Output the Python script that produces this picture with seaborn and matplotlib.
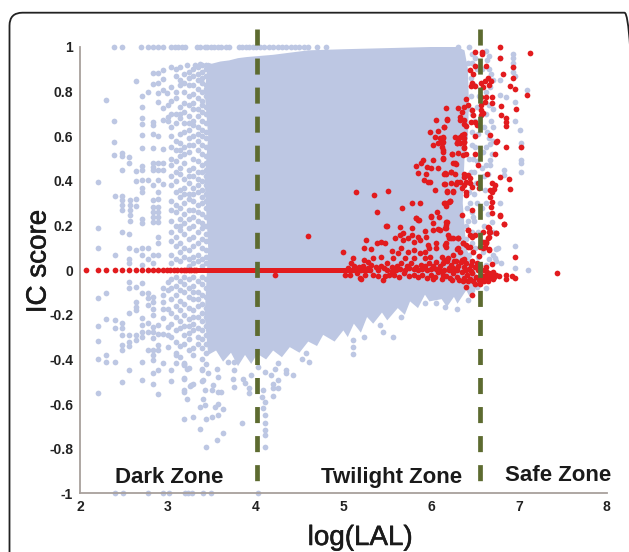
import numpy as np
import pandas as pd
import matplotlib.pyplot as plt
import matplotlib.patheffects as pe
from matplotlib.patches import FancyBboxPatch
import seaborn as sns

# outline of the solid blue cloud
cloud_x = [3.46, 3.5, 3.6, 3.7, 3.8, 3.9, 4.05, 4.2, 4.4, 4.6, 5.0, 5.5, 6.0, 6.3, 6.38, 6.42, 6.43, 6.42, 6.38, 6.36, 6.40, 6.5, 6.55,
           6.44, 6.40, 6.30, 6.26, 6.18, 6.12, 5.98, 5.93, 5.85, 5.76, 5.70, 5.62, 5.5, 5.44, 5.34, 5.27, 5.2, 5.12, 5.05, 5.0, 4.9, 4.77, 4.7,
           4.6, 4.5, 4.39, 4.3, 4.2, 4.12, 4.02, 3.95, 3.88, 3.8, 3.72, 3.63, 3.55, 3.46, 3.42, 3.46, 3.42, 3.46, 3.42, 3.46]
cloud_y = [0.93, 0.925, 0.935, 0.94, 0.95, 0.955, 0.96, 0.965, 0.975, 0.985, 0.99, 0.995, 1.0, 1.0, 0.985, 0.90, 0.75, 0.6, 0.5, 0.3, 0.1, 0.0, -0.06,
           -0.12, -0.09, -0.15, -0.12, -0.165, -0.13, -0.14, -0.11, -0.17, -0.14, -0.2, -0.17, -0.225, -0.19, -0.24, -0.21, -0.28, -0.24, -0.3, -0.27, -0.32, -0.29, -0.34,
           -0.32, -0.37, -0.345, -0.39, -0.36, -0.40, -0.375, -0.42, -0.38, -0.43, -0.37, -0.41, -0.36, -0.38, -0.2, 0.1, 0.4, 0.6, 0.8, 0.93]

top_row_x = [2.39, 2.48, 2.70, 2.77, 2.83, 2.89, 2.94, 3.04, 3.08, 3.12, 3.16, 3.2, 3.33, 3.37, 3.42, 3.45, 3.49, 3.53,
             3.57, 3.61, 3.66, 3.70, 3.81, 3.85, 3.89, 3.93, 3.97, 4.01, 4.05, 4.1, 4.15, 4.2, 4.25, 4.3, 4.35, 4.4,
             4.45, 4.5, 4.55, 4.6, 4.7, 4.8]
bottom_row_x = [2.40, 2.49, 2.78, 2.94, 3.01, 3.20, 3.23, 3.28, 3.40, 3.49, 4.03]

blue_left = [(2.30, .762), (2.64, .847), (2.39, .669), (2.39, .575), (2.39, .515), (2.48, .526), (2.48, .511), (2.56, .505),
             (2.71, .78), (2.77, .80), (2.71, .732), (2.71, .68), (2.71, .657), (2.83, .665), (2.83, .65), (2.71, .606),
             (2.83, .608), (2.89, .60), (2.71, .547), (2.83, .548), (2.94, .542), (2.83, .882), (2.89, .882), (2.94, .897),
             (2.83, .834), (2.89, .837), (2.94, .858), (2.89, .792), (2.94, .807), (2.99, .795), (2.89, .752), (2.94, .725),
             (3.0, .74), (2.94, .675), (3.0, .687), (3.0, .668), (3.04, .911), (3.09, .90), (3.14, .911), (3.215, .919),
             (3.31, .919), (3.37, .926),
             (2.2, .393), (2.2, .188), (2.2, .098), (2.395, .332), (2.395, .067), (2.48, .332), (2.48, .314), (2.48, .291),
             (2.48, .269), (2.48, .173), (2.57, .314), (2.57, .291), (2.57, .269), (2.57, .246), (2.57, .221), (2.64, .321),
             (2.64, .287), (2.56, .478), (2.48, .448), (2.64, .445), (2.71, .466), (2.71, .448), (2.64, .40), (2.71, .406),
             (2.77, .406), (2.71, .366), (2.71, .348), (2.83, .381), (2.89, .406), (2.89, .351), (2.83, .314), (2.89, .317),
             (2.83, .284), (2.83, .261), (2.83, .239), (2.83, .217), (2.89, .284), (2.89, .261), (2.89, .239), (2.89, .217),
             (2.71, .231), (2.71, .213), (2.56, .161), (2.56, .098), (2.64, .089), (2.71, .098), (2.77, .098), (2.56, .048),
             (2.56, .033), (2.71, .067), (2.77, .052), (2.83, .067), (2.89, .067), (2.71, .022), (2.83, .033), (2.89, .149),
             (2.89, .12), (2.83, .478), (2.83, .463), (2.83, .448), (2.89, .478), (2.94, .478), (2.89, .448), (2.94, .448),
             (2.94, .388),
             (2.2, -.127), (2.30, -.104), (2.2, -.251), (2.2, -.318), (2.2, -.399), (2.30, -.221), (2.395, -.224), (2.395, -.258),
             (2.3, -.381), (2.3, -.411), (2.395, -.411), (2.48, -.239), (2.48, -.258), (2.48, -.291), (2.48, -.336), (2.48, -.358),
             (2.56, -.291), (2.56, -.321), (2.56, -.339), (2.56, -.448), (2.48, -.503), (2.2, -.55), (2.56, -.052), (2.56, -.082),
             (2.56, -.194), (2.64, -.074), (2.64, -.142), (2.64, -.164), (2.64, -.179), (2.71, -.059), (2.71, -.104), (2.71, -.216),
             (2.71, -.246), (2.71, -.276), (2.71, -.299), (2.64, -.291), (2.64, -.314), (2.71, -.411), (2.71, -.493), (2.77, -.104),
             (2.77, -.127), (2.77, -.157), (2.83, -.119), (2.83, -.142), (2.83, -.172), (2.83, -.201), (2.77, -.239), (2.77, -.276),
             (2.77, -.358), (2.83, -.254), (2.83, -.276), (2.83, -.306), (2.83, -.358), (2.83, -.381), (2.83, -.403), (2.83, -.463),
             (2.83, -.511), (2.89, -.246), (2.89, -.284), (2.89, -.336), (2.89, -.358), (2.89, -.448), (2.89, -.553), (2.94, -.418),
             (2.94, -.082), (2.94, -.112), (2.94, -.142), (2.94, -.172), (2.94, -.216), (2.94, -.288), (3.0, -.052), (3.0, -.09),
             (3.0, -.172), (3.0, -.254), (3.0, -.291), (3.0, -.343), (3.04, -.448), (3.09, -.381), (3.09, -.418), (3.18, -.426),
             (3.18, -.485), (3.18, -.538), (3.04, -.497), (3.27, -.515), (3.39, -.497), (3.39, -.448)]

# the speckled band just left of the solid cloud, one list per column
col_x = [3.04, 3.09, 3.14, 3.19, 3.24, 3.29, 3.34, 3.39, 3.44]
col_1 = [.82, .76, .70, .64, .60, .55, .50, .47, .42, .38, .31, .27, .22, .17, .13, .07, .03, -.04, -.08, -.13, -.19, -.24, -.30]
col_2 = [.87, .80, .77, .70, .66, .58, .54, .49, .44, .40, .35, .29, .26, .20, .15, .11, .05, -.03, -.07, -.11, -.16, -.21, -.27, -.32, -.37]
col_3 = [.85, .83, .73, .70, .68, .61, .57, .54, .51, .46, .43, .36, .33, .28, .23, .20, .18, .12, .08, .04, -.05, -.09, -.14, -.18, -.23, -.26, -.34, -.39]
col_4 = [.88, .84, .80, .75, .71, .66, .62, .55, .52, .48, .41, .37, .34, .30, .25, .21, .16, .10, .06, -.03, -.06, -.10, -.15, -.20, -.25, -.29, -.33, -.42]
col_5 = [.89, .86, .83, .78, .74, .69, .66, .63, .59, .56, .53, .45, .42, .39, .34, .32, .27, .23, .19, .14, .09, .05, .02, -.04, -.08, -.12, -.17, -.22, -.25, -.28, -.31, -.36, -.44]
col_6 = [.90, .87, .83, .79, .75, .72, .67, .65, .60, .56, .50, .46, .42, .37, .34, .31, .27, .24, .20, .15, .11, .06, .03, -.03, -.07, -.10, -.13, -.18, -.21, -.24, -.27, -.35, -.38]
col_7 = [.91, .88, .85, .81, .77, .72, .69, .64, .61, .58, .54, .49, .44, .41, .38, .35, .29, .26, .22, .17, .12, .07, .04, -.05, -.10, -.13, -.16, -.21, -.26, -.30, -.33]
col_8 = [.92, .89, .86, .84, .80, .76, .74, .71, .67, .63, .60, .56, .52, .47, .44, .40, .36, .33, .30, .25, .21, .19, .14, .10, .05, .02, -.03, -.06, -.11, -.15, -.19, -.23, -.27, -.31, -.35, -.40]
col_9 = [.92, .90, .87, .83, .81, .78, .73, .70, .66, .62, .59, .55, .51, .48, .45, .42, .38, .34, .31, .28, .24, .20, .16, .13, .09, .06, .03, -.04, -.08, -.12, -.17, -.21, -.25, -.29, -.33, -.37, -.42]

blue_bottom = [(3.18, -.418), (3.215, -.441), (3.39, -.441), (3.405, -.493), (3.18, -.486), (3.29, -.508), (3.25, -.52), (3.42, -.538),
               (3.52, -.515), (3.50, -.535), (3.575, -.545), (3.61, -.545), (3.18, -.545), (3.215, -.578), (3.405, -.578), (3.37, -.613),
               (3.42, -.605), (3.575, -.598), (3.54, -.613), (3.63, -.62), (3.44, -.665), (3.50, -.657), (3.575, -.65), (3.29, -.657),
               (3.18, -.665), (3.37, -.71), (3.63, -.732), (3.56, -.762), (3.435, -.792), (3.85, -.687), (4.11, -.65), (4.11, -.687),
               (4.11, -.717), (4.11, -.74), (4.11, -.792), (4.07, -.568), (4.11, -.59), (4.09, -.616), (3.75, -.448), (3.74, -.486),
               (3.76, -.523), (3.86, -.486), (3.88, -.505), (3.92, -.53), (3.92, -.55), (3.95, -.471), (4.09, -.538), (4.20, -.508),
               (4.20, -.53), (4.26, -.493), (4.26, -.53), (4.20, -.565), (4.18, -.471), (4.11, -.456), (4.22, -.441), (4.26, -.418),
               (4.35, -.448), (4.35, -.46), (4.43, -.468), (4.53, -.40), (4.61, -.411), (4.58, -.373), (4.03, -.433), (3.75, -.411),
               (3.69, -.411), (3.56, -.441), (3.46, -.463), (3.575, -.478),
               (5.11, -.314), (5.11, -.344), (5.11, -.374), (5.23, -.30), (5.42, -.247), (5.45, -.277), (5.56, -.30), (5.66, -.21),
               (5.93, -.146), (6.05, -.149), (6.16, -.164), (6.30, -.176), (6.42, -.135), (6.63, -.082), (6.46, -.09), (6.52, -.075)]

blue_right = [(6.93, .97), (6.93, .95), (6.93, .93), (6.93, .91), (6.93, .89), (6.95, .87), (7.09, .807), (7.01, .63), (7.02, .55),
              (6.78, .85), (6.78, .785), (6.85, .774), (6.95, .755), (6.95, .67), (6.78, .95), (6.43, 1.0), (6.31, 1.0),
              (7.02, .568), (7.02, .493), (7.02, .478), (7.02, .441), (6.83, .449), (6.83, .426), (6.67, .493), (6.67, .471), (6.67, .565),
              (6.95, .109), (6.95, .008), (7.10, 0.0), (6.74, .097), (6.73, .053), (6.63, .023), (6.48, .24), (6.69, .217), (6.40, .2),
              (6.46, .97), (6.46, .93), (6.45, .86), (6.45, .78), (6.47, .70), (6.47, .62), (6.46, .56), (6.48, .50), (6.45, .44), (6.43, .35),
              (6.44, .30), (6.46, .26), (6.42, .22), (6.45, .16), (6.46, .12), (6.43, .07), (6.48, .03),
              (6.62, .98), (6.64, .94), (6.66, .90), (6.68, .88), (6.63, .80), (6.67, .82), (6.66, .74), (6.70, .72), (6.62, .70), (6.68, .67),
              (6.71, .64), (6.64, .62), (6.66, .59), (6.71, .58), (6.63, .55), (6.69, .52), (6.63, .47), (6.65, .43), (6.61, .36), (6.62, .30),
              (6.65, .25), (6.70, .17), (6.62, .13), (6.76, .10), (6.74, .04), (6.80, .03), (6.78, .30),
              (6.50, .95), (6.52, .90), (6.49, .83), (6.54, .78), (6.52, .73), (6.50, .67), (6.53, .61), (6.50, .55), (6.52, .49), (6.49, .44),
              (6.51, .39), (6.49, .34), (6.52, .30), (6.49, .22), (6.53, .17), (6.50, .10), (6.53, .06), (6.58, .70), (6.60, .64), (6.59, .53),
              (6.66, .96), (6.70, .85), (6.58, .90), (6.58, .46), (6.60, .42), (6.58, .28), (6.60, .20), (6.59, .08), (6.66, .05), (6.70, .07),
              (6.42, .93), (6.44, .72), (6.43, .50), (6.42, .42), (6.41, .28), (6.40, .14), (6.47, .17), (6.46, .38)]

red_upper = [(6.78, 1.0), (7.125, .974), (6.50, .979), (6.575, .979), (6.585, .968), (6.78, .949), (6.93, .911), (6.5, .914), (6.44, .896),
             (6.48, .877), (6.62, .916), (6.82, .877), (6.93, .859), (6.46, .837), (6.5, .826), (6.45, .825), (6.57, .837), (6.61, .849),
             (6.65, .859), (6.68, .849), (6.66, .829), (6.59, .822), (6.9, .826), (6.95, .814), (7.09, .784), (6.4, .769), (6.42, .74),
             (6.57, .777), (6.63, .774), (6.61, .754), (6.69, .777), (6.57, .74), (6.69, .747), (6.17, .726), (6.31, .725), (6.37, .732),
             (6.35, .71), (6.80, .737), (6.97, .722), (6.47, .717), (6.48, .695), (6.57, .717), (6.59, .705), (6.57, .695), (6.80, .695),
             (6.85, .684), (6.85, .665), (6.85, .647), (6.18, .675), (6.15, .642), (6.33, .687), (6.37, .672), (6.38, .657), (6.45, .662),
             (6.33, .672), (6.4, .645), (6.5, .662), (6.13, .594), (6.14, .575), (6.12, .553), (6.27, .597), (6.29, .571), (6.33, .597),
             (6.35, .605), (6.38, .612), (6.37, .59), (6.31, .583), (6.38, .575), (6.33, .568), (6.52, .65), (6.67, .605), (6.75, .58),
             (6.85, .55), (7.02, .55), (6.5, .6), (6.38, .55), (5.99, .619), (6.08, .624), (6.05, .671), (6.18, .676), (6.15, .643),
             (6.04, .598), (6.1, .591), (6.13, .598), (6.08, .568), (6.12, .568), (6.02, .561), (6.14, .531)]

red_middle = [(6.74, .575), (6.12, .575), (6.14, .538), (6.14, .5), (6.29, .568), (6.37, .575), (6.24, .52), (6.31, .523), (6.36, .516),
              (6.40, .52), (6.38, .546), (6.5, .52), (6.73, .52), (6.25, .478), (6.28, .474), (6.53, .471), (6.64, .433), (6.79, .416),
              (6.89, .408), (6.9, .363), (6.15, .433), (6.17, .429), (6.23, .438), (6.27, .433), (6.37, .433), (6.38, .416), (6.44, .411),
              (6.42, .426), (6.15, .386), (6.29, .396), (6.33, .396), (6.23, .389), (6.28, .386), (6.40, .396), (6.44, .389), (6.46, .374),
              (6.37, .381), (6.35, .366), (6.40, .351), (6.40, .336), (6.25, .351), (6.18, .351), (6.53, .389), (6.54, .366), (6.69, .389),
              (6.73, .381), (6.67, .359), (6.72, .362), (6.69, .351), (6.67, .329), (6.69, .306), (6.68, .284), (6.69, .254), (6.15, .302),
              (6.2, .306), (6.21, .311), (6.17, .287), (6.47, .269), (6.35, .247), (6.78, .247), (6.83, .206), (6.18, .217), (6.17, .202),
              (6.17, .187), (6.1, .182), (6.42, .18), (6.5, .157), (6.47, .147), (6.66, .191), (6.66, .172), (6.63, .127), (6.66, .147),
              (6.74, .165), (6.2, .142), (6.25, .142), (6.31, .142), (6.36, .12), (6.4, .112), (6.44, .105), (6.16, .112), (6.29, .097),
              (6.56, .102), (6.61, .105), (6.66, .097), (5.14, .35), (5.35, .337), (5.51, .356), (5.78, .302), (5.87, .302), (5.38, .26),
              (5.67, .278), (5.83, .232), (5.85, .224), (6.0, .242), (6.07, .262), (6.16, .299), (6.21, .31), (6.04, .359), (6.18, .355),
              (6.25, .355), (6.16, .386), (5.83, .468), (5.85, .434), (5.95, .464), (6.02, .494), (6.0, .456), (6.08, .456), (5.91, .494),
              (5.88, .482), (6.14, .501), (5.92, .404), (5.97, .396), (5.99, .396), (6.16, .434), (6.23, .441), (6.27, .479), (6.24, .52),
              (5.94, .43), (5.5, .198), (4.6, .155)]

red_low = [(7.435, -.015), (5.0, .08), (5.11, .053), (5.09, .03), (5.19, -.037), (5.23, .098), (5.26, .135), (5.32, .095), (5.38, .12),
           (5.43, .127), (5.47, .12), (5.49, .199), (5.55, .086), (5.59, .142), (5.64, .157), (5.68, .165), (5.78, .187), (5.64, .195),
           (5.83, .232), (5.86, .225), (6.0, .24), (6.09, .24), (6.17, .217), (6.02, .21), (6.02, .18), (6.08, .184), (6.16, .187),
           (5.93, .175), (5.94, .15), (6.19, .157), (6.23, .142), (6.31, .142), (5.68, .135), (5.74, .142), (5.78, .157), (5.80, .124),
           (5.87, .135), (5.85, .15), (5.66, .098), (5.62, .075), (5.74, .083), (5.81, .09), (5.87, .075), (5.97, .112), (5.98, .098),
           (5.93, .083), (6.06, .12), (6.06, .098), (6.17, .12), (6.17, .105), (6.31, .098), (6.33, .08), (6.25, .068), (6.19, .053),
           (6.12, .06), (5.99, .06), (5.93, .053), (5.81, .053), (5.7, .053), (5.57, .053), (5.43, .06), (5.34, .053), (5.24, .045),
           (5.28, .038), (6.36, .12), (6.42, .105), (6.48, .08), (6.54, .065), (6.42, .18), (6.44, .157), (6.59, .172), (6.65, .195),
           (6.67, .17), (6.74, .165), (6.83, .205), (6.78, .243), (6.59, .127), (6.65, .142), (6.63, .12), (6.59, .098), (6.66, .09),
           (6.95, .06), (6.69, .026), (6.40, -.077), (6.46, -.11), (6.77, -.027), (6.85, -.022), (6.85, -.041), (6.92, -.025), (6.95, -.033),
           (4.22, -.02), (5.2, -.039), (5.45, -.042), (5.47, -.028)]

# crowded band right around zero
red_band = [(5.02, -.02), (5.05, .01), (5.08, -.02), (5.12, .02), (5.15, -.015), (5.18, .012), (5.22, .02), (5.25, -.02), (5.28, .01),
            (5.31, .025), (5.34, -.02), (5.37, .015), (5.40, -.025), (5.43, .02), (5.46, .01), (5.5, .03), (5.52, -.02), (5.55, .015),
            (5.58, -.02), (5.61, .02), (5.63, -.03), (5.66, .03), (5.69, -.015), (5.72, .02), (5.75, -.025), (5.77, .03), (5.8, -.02),
            (5.83, .015), (5.85, -.03), (5.88, .025), (5.9, -.02), (5.93, .02), (5.95, -.035), (5.98, .03), (6.0, -.02), (6.02, .02),
            (6.04, -.03), (6.06, .035), (6.08, -.01), (6.1, .02), (6.12, -.04), (6.13, .03), (6.15, .0), (6.17, -.025), (6.18, .04),
            (6.2, .01), (6.21, -.035), (6.23, .025), (6.25, -.015), (6.26, .04), (6.28, .005), (6.29, -.03), (6.31, .02), (6.32, -.045),
            (6.34, .035), (6.35, -.01), (6.37, .015), (6.38, -.035), (6.4, .03), (6.41, -.02), (6.43, .005), (6.44, -.04), (6.45, .025),
            (6.47, -.015), (6.48, -.05), (6.5, .015), (6.51, -.03), (6.53, .0), (6.54, -.045), (6.56, .02), (6.57, -.02), (6.58, -.035),
            (6.6, .0), (6.61, -.025), (6.63, -.005), (6.64, -.035), (6.66, -.015), (6.68, -.03), (6.7, -.01), (6.72, -.03), (6.74, -.02),
            (5.95, .0), (6.05, .005), (6.15, .045), (6.25, .01), (6.35, .045), (6.45, -.005), (6.55, .005), (6.3, .0), (6.4, .0), (6.2, .0),
            (5.6, .0), (5.65, .005), (5.7, .0), (5.75, .01), (5.8, .005), (5.85, .0), (5.9, .005), (6.0, .005), (6.1, -.005), (5.5, .0),
            (5.55, -.005), (5.4, .0), (5.3, .0), (5.2, .0), (5.1, .0), (6.02, -.04), (6.14, -.02), (6.24, -.045), (6.36, -.05), (6.42, -.05),
            (6.46, .04), (6.5, -.06), (6.52, .03), (6.56, -.06), (6.6, -.05), (6.62, .015), (6.65, -.05), (6.7, -.04), (6.28, .04), (6.38, .05)]

zero_dots_x = [2.07, 2.2, 2.3, 2.395, 2.48, 2.56, 2.64, 2.71, 2.77, 2.83, 2.89, 2.94, 2.99, 3.03, 3.07, 3.11, 3.15, 3.18, 3.21, 3.24, 3.27, 3.3, 3.32]
zero_line_x = [3.32, 5.3]
zone_cuts = [4.02, 6.56]

xticks = [2, 3, 4, 5, 6, 7, 8]
yticks = [1, 0.8, 0.6, 0.4, 0.2, 0, -0.2, -0.4, -0.6, -0.8, -1]
ytick_labels = ['1', '0.8', '0.6', '0.4', '0.2', '0', '-0.2', '-0.4', '-0.6', '-0.8', '-1']

BLUE = '#bdc7e3'
RED = '#e21b1e'
GREEN = '#5d6b30'
AXIS = '#a8a09c'
INK = '#1a1a1a'


def pairs_frame(*groups):
    return pd.DataFrame([p for g in groups for p in g], columns=['lal', 'ic'])


sns.set_style('white')
plt.rcParams['font.family'] = ['Liberation Sans', 'DejaVu Sans']

fig = plt.figure(figsize=(6.29, 5.52), dpi=100)
ax = fig.add_axes([80 / 629, (552 - 493.3) / 552, 526.7 / 629, 446.3 / 552])

ax.fill(cloud_x, cloud_y, color=BLUE, lw=0, zorder=1)

columns = [col_1, col_2, col_3, col_4, col_5, col_6, col_7, col_8, col_9]
col_pts = [(x, y) for x, col in zip(col_x, columns) for y in col]
edge_pts = [(x, 1) for x in top_row_x] + [(x, -1) for x in bottom_row_x]
blue = pairs_frame(blue_left, col_pts, blue_bottom, blue_right, edge_pts)
sns.scatterplot(data=blue, x='lal', y='ic', color=BLUE, s=17, linewidth=0, clip_on=False, zorder=2, ax=ax)

sns.lineplot(x=zero_line_x, y=[0, 0], color=RED, lw=3.6, zorder=3, ax=ax)
red = pairs_frame(red_upper, red_middle, red_low, red_band, [(x, 0) for x in zero_dots_x])
sns.scatterplot(data=red, x='lal', y='ic', color=RED, s=17, linewidth=0, clip_on=False, zorder=3, ax=ax)

for cut in zone_cuts:
    ax.plot([cut, cut], [1.08, -1], color=GREEN, lw=3.4, dashes=(3.4, 2.75), dash_capstyle='butt', clip_on=False, zorder=4)

ax.set_xlim(2, 8)
ax.set_ylim(-1, 1)
ax.set_xticks(xticks)
ax.set_yticks(yticks)
ax.set_yticklabels(ytick_labels)
ax.tick_params(direction='in', length=4, width=1, color=AXIS, pad=5, labelsize=10, labelcolor='#222222')
for lab in ax.get_xticklabels() + ax.get_yticklabels():
    lab.set_fontweight('bold')
sns.despine(ax=ax)
for side in ['left', 'bottom']:
    ax.spines[side].set_color(AXIS)
    ax.spines[side].set_linewidth(1.3)

# labels look a bit heavier than the regular weight
heavy = [pe.withStroke(linewidth=0.4, foreground=INK)]
ax.set_xlabel('log(LAL)', fontsize=20, color=INK, path_effects=heavy)
ax.set_ylabel('IC score', fontsize=20, color=INK, path_effects=heavy)
ax.xaxis.set_label_coords(0.532, -0.071)
ax.yaxis.set_label_coords(-0.054, 0.519)

ax.text(2.40, -0.955, 'Dark Zone', fontsize=16, fontweight='bold', color=INK, zorder=5)
ax.text(4.75, -0.955, 'Twilight Zone', fontsize=16, fontweight='bold', color=INK, zorder=5)
ax.text(6.84, -0.946, 'Safe Zone', fontsize=16, fontweight='bold', color=INK, zorder=5)

# rounded panel frame, runs off the right and bottom of the picture
frame = FancyBboxPatch((0.095, -0.3), 6.28, 5.693, boxstyle='round,pad=0,rounding_size=0.13',
                       transform=fig.dpi_scale_trans, fc='none', ec='#222222', lw=1.3)
fig.add_artist(frame)

fig.savefig('out.png', dpi=100)
